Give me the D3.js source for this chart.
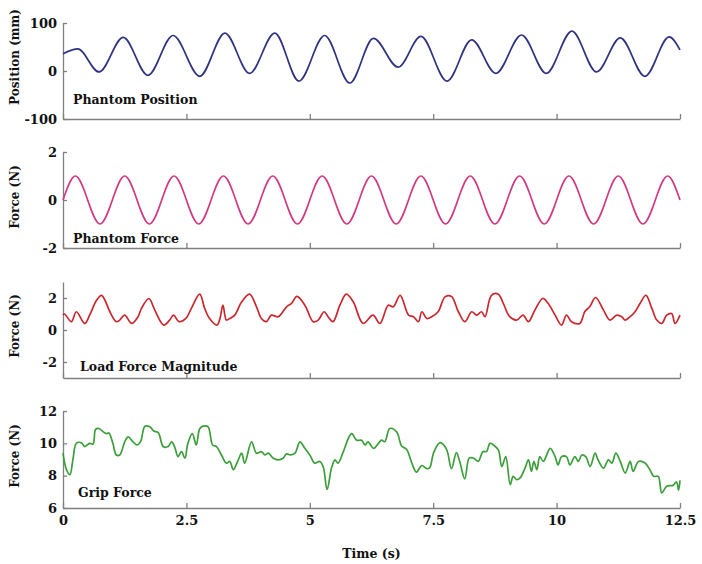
<!DOCTYPE html>
<html>
<head>
<meta charset="utf-8">
<script src="https://cdn.jsdelivr.net/npm/d3@7"></script>
<style>
  body { margin: 0; background: #fff; }
  text { font-family: "DejaVu Serif", serif; font-weight: bold; fill: #111; }
  .axis path, .axis line { stroke: #808080; stroke-width: 1.3; }
</style>
</head>
<body>
<svg id="chart"></svg>
<script>
// Time axis ticks (s)
const timeTicks = [0, 2.5, 5, 7.5, 10, 12.5];

// Phantom position (mm): [time, value] at start, peaks, troughs and end
const positionData = [
  [0, 36], [0.30, 46], [0.73, -2], [1.22, 70], [1.72, -9], [2.23, 74], [2.77, -11],
  [3.28, 79], [3.78, -5], [4.29, 79], [4.78, -21], [5.30, 74], [5.81, -25],
  [6.29, 68], [6.79, 8], [7.25, 72], [7.78, -21], [8.28, 65], [8.77, -5],
  [9.29, 75], [9.79, -5], [10.31, 83], [10.81, -2], [11.29, 69], [11.79, -11],
  [12.28, 71], [12.5, 44]
];

// Phantom force (N): [time, value] at zero, peaks and troughs
const forceData = [
  [0, 0], [0.25, 1], [0.75, -1], [1.25, 1], [1.75, -1], [2.25, 1], [2.75, -1],
  [3.25, 1], [3.75, -1], [4.25, 1], [4.75, -1], [5.25, 1], [5.75, -1],
  [6.25, 1], [6.75, -1], [7.25, 1], [7.75, -1], [8.25, 1], [8.75, -1],
  [9.25, 1], [9.75, -1], [10.25, 1], [10.75, -1], [11.25, 1], [11.75, -1],
  [12.25, 1], [12.5, 0]
];

// Load force magnitude (N)
const loadData = [
  [0.00, 0.93], [0.03, 1.00], [0.17, 0.52], [0.27, 1.14], [0.44, 0.41], [0.54, 0.93],
  [0.68, 1.86], [0.78, 2.17], [0.85, 1.86], [0.95, 1.14], [1.08, 0.52], [1.15, 0.62],
  [1.25, 0.93], [1.39, 0.41], [1.52, 0.83], [1.59, 1.35], [1.74, 1.97], [1.86, 1.24],
  [2.04, 0.31], [2.16, 0.62], [2.24, 0.93], [2.35, 0.52], [2.49, 0.72], [2.60, 1.35],
  [2.77, 2.24], [2.87, 1.35], [2.97, 0.72], [3.12, 0.31], [3.18, 0.72], [3.24, 1.55],
  [3.31, 0.62], [3.38, 0.72], [3.48, 0.93], [3.62, 1.76], [3.78, 2.24], [3.92, 1.45],
  [4.02, 0.72], [4.12, 0.52], [4.22, 0.93], [4.36, 0.83], [4.53, 1.45], [4.63, 1.66],
  [4.74, 2.10], [4.90, 1.55], [5.07, 0.52], [5.17, 0.62], [5.29, 1.14], [5.37, 0.83],
  [5.47, 0.52], [5.61, 1.55], [5.74, 2.24], [5.88, 1.76], [6.08, 0.41], [6.28, 0.93],
  [6.42, 0.41], [6.59, 1.55], [6.69, 1.45], [6.83, 2.17], [7.00, 0.93], [7.10, 0.83],
  [7.20, 0.52], [7.27, 1.14], [7.37, 0.72], [7.47, 0.83], [7.60, 1.14], [7.74, 2.07],
  [7.87, 2.10], [8.01, 1.14], [8.14, 0.52], [8.28, 1.14], [8.38, 0.93], [8.48, 1.14],
  [8.55, 0.83], [8.68, 2.17], [8.82, 2.24], [8.92, 1.66], [9.05, 0.83], [9.19, 0.62],
  [9.32, 0.93], [9.43, 0.52], [9.56, 1.24], [9.72, 1.97], [9.83, 1.66], [9.97, 0.93],
  [10.10, 0.31], [10.20, 0.93], [10.30, 0.52], [10.47, 0.41], [10.57, 1.14], [10.67, 1.45],
  [10.79, 2.03], [10.95, 1.24], [11.08, 0.62], [11.22, 0.93], [11.32, 0.83], [11.39, 0.62],
  [11.49, 0.83], [11.59, 1.14], [11.69, 1.66], [11.81, 2.17], [11.93, 1.35], [12.03, 0.62],
  [12.13, 0.41], [12.23, 0.93], [12.33, 1.03], [12.40, 0.41], [12.50, 0.93]
];

// Grip force (N)
const gripData = [
  [0.00, 9.39], [0.07, 8.37], [0.14, 8.06], [0.20, 8.98], [0.27, 10.0], [0.37, 10.04],
  [0.44, 9.80], [0.54, 10.0], [0.61, 9.96], [0.66, 10.86], [0.73, 10.92], [0.78, 10.80],
  [0.88, 10.60], [0.93, 10.64], [1.01, 10.0], [1.08, 9.28], [1.15, 9.28], [1.25, 10.09],
  [1.32, 10.40], [1.42, 10.09], [1.50, 9.90], [1.57, 10.09], [1.66, 11.06], [1.76, 11.02],
  [1.84, 10.76], [1.93, 10.66], [2.03, 9.80], [2.13, 9.80], [2.20, 10.09], [2.26, 9.80],
  [2.33, 9.18], [2.40, 9.49], [2.47, 9.08], [2.53, 10.0], [2.62, 10.60], [2.70, 9.90],
  [2.77, 10.90], [2.84, 11.06], [2.94, 11.02], [3.03, 9.90], [3.11, 9.80], [3.21, 9.28],
  [3.31, 8.77], [3.38, 8.88], [3.45, 8.37], [3.55, 8.98], [3.62, 9.39], [3.68, 8.77],
  [3.82, 10.09], [3.92, 9.39], [4.02, 9.49], [4.09, 9.28], [4.16, 9.39], [4.26, 9.08],
  [4.36, 8.98], [4.46, 9.08], [4.53, 9.35], [4.60, 9.28], [4.70, 9.39], [4.80, 10.09],
  [4.90, 9.69], [5.00, 9.28], [5.10, 8.77], [5.20, 8.88], [5.27, 8.57], [5.35, 7.15],
  [5.44, 8.47], [5.51, 8.98], [5.57, 8.77], [5.68, 9.49], [5.78, 10.30], [5.85, 10.60],
  [5.95, 10.19], [6.05, 10.19], [6.12, 9.90], [6.18, 10.09], [6.29, 9.69], [6.39, 10.0],
  [6.45, 10.20], [6.52, 10.10], [6.62, 10.92], [6.76, 10.70], [6.86, 9.84], [6.96, 9.63],
  [7.06, 8.84], [7.16, 8.22], [7.27, 8.63], [7.37, 8.43], [7.43, 8.50], [7.51, 9.43],
  [7.64, 10.04], [7.77, 9.63], [7.87, 8.43], [7.97, 9.43], [8.04, 8.84], [8.14, 7.80],
  [8.23, 9.08], [8.32, 9.08], [8.41, 8.88], [8.51, 9.49], [8.58, 9.49], [8.65, 10.0],
  [8.72, 9.90], [8.82, 9.59], [8.89, 8.57], [8.97, 9.18], [9.06, 7.45], [9.12, 7.96],
  [9.19, 7.75], [9.26, 7.86], [9.36, 8.47], [9.43, 8.98], [9.49, 8.27], [9.54, 8.88],
  [9.60, 8.37], [9.66, 9.18], [9.73, 8.88], [9.87, 9.69], [9.97, 9.18], [10.03, 8.67],
  [10.10, 9.18], [10.20, 9.18], [10.27, 8.67], [10.37, 9.18], [10.44, 8.88], [10.51, 9.28],
  [10.59, 9.18], [10.68, 8.57], [10.78, 9.39], [10.84, 8.98], [10.95, 8.47], [11.05, 8.98],
  [11.12, 8.78], [11.20, 9.39], [11.29, 8.88], [11.39, 8.16], [11.49, 8.88], [11.55, 8.27],
  [11.66, 8.88], [11.79, 8.78], [11.89, 8.37], [11.97, 7.96], [12.06, 7.96], [12.13, 6.94],
  [12.23, 7.35], [12.36, 7.40], [12.43, 7.61], [12.47, 7.10], [12.50, 7.71]
];

// Panel layout
const panels = [
  { data: positionData, domain: [-100, 100], range: [119, 23], ticks: [-100, 0, 100],
    color: "#2f3380", ylabel: "Position (mm)", ylabelY: 57, name: "Phantom Position", nameX: 73, nameY: 104,
    curve: d3.curveMonotoneX },
  { data: forceData, domain: [-2, 2], range: [248, 152], ticks: [-2, 0, 2],
    color: "#d03a82", ylabel: "Force (N)", ylabelY: 197, name: "Phantom Force", nameX: 73, nameY: 243,
    curve: d3.curveMonotoneX },
  { data: loadData, domain: [-3, 3], range: [378, 282], ticks: [-2, 0, 2],
    color: "#c8282e", ylabel: "Force (N)", ylabelY: 326, name: "Load Force Magnitude", nameX: 80, nameY: 371,
    curve: d3.curveCatmullRom },
  { data: gripData, domain: [6, 12], range: [508, 411], ticks: [6, 8, 10, 12],
    color: "#3c9e3a", ylabel: "Force (N)", ylabelY: 456, name: "Grip Force", nameX: 78, nameY: 497,
    curve: d3.curveCatmullRom }
];

const svgWidth = 702;
const svgHeight = 564;
const svg = d3.select("#chart")
    .attr("width", svgWidth)
    .attr("height", svgHeight);

const x = d3.scaleLinear().domain([0, 12.5]).range([63, 680]);

panels.forEach((p, i) => {
    const y = d3.scaleLinear().domain(p.domain).range(p.range);
    const last = i === panels.length - 1;

    // x axis
    const xAxis = d3.axisBottom(x)
        .tickValues(timeTicks)
        .tickSizeInner(-5)
        .tickSizeOuter(0)
        .tickPadding(8)
        .tickFormat(d => last ? String(d) : "");
    const gx = svg.append("g")
        .attr("class", "axis")
        .attr("transform", `translate(0,${p.range[0]})`)
        .call(xAxis);
    gx.selectAll("text").attr("font-size", 13).attr("font-family", null);

    // y axis
    const yAxis = d3.axisLeft(y)
        .tickValues(p.ticks)
        .tickSizeInner(-4)
        .tickSizeOuter(0)
        .tickPadding(6)
        .tickFormat(d => String(d));
    const gy = svg.append("g")
        .attr("class", "axis")
        .attr("transform", `translate(${x(0)},0)`)
        .call(yAxis);
    gy.selectAll("text").attr("font-size", 13).attr("font-family", null);

    // y label
    svg.append("text")
        .attr("transform", `translate(19,${p.ylabelY}) rotate(-90)`)
        .attr("text-anchor", "middle")
        .attr("font-size", 12)
        .text(p.ylabel);

    // curve
    const line = d3.line()
        .x(d => x(d[0]))
        .y(d => y(d[1]))
        .curve(p.curve);
    svg.append("path")
        .datum(p.data)
        .attr("fill", "none")
        .attr("stroke", p.color)
        .attr("stroke-width", 1.7)
        .attr("d", line);

    // panel name
    svg.append("text")
        .attr("x", p.nameX)
        .attr("y", p.nameY)
        .attr("font-size", 12.5)
        .text(p.name);
});

// x label
svg.append("text")
    .attr("x", (x(0) + x(12.5)) / 2)
    .attr("y", 558)
    .attr("text-anchor", "middle")
    .attr("font-size", 12.5)
    .text("Time (s)");
</script>
</body>
</html>
